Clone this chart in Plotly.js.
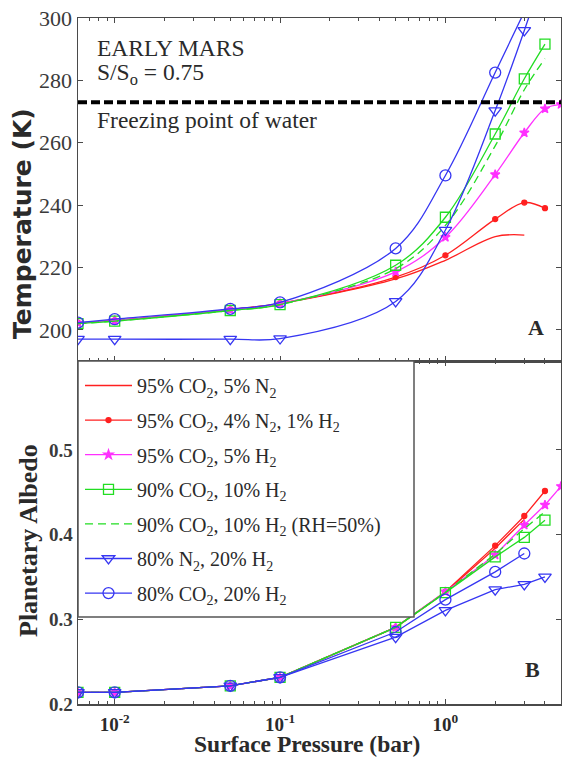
<!DOCTYPE html>
<html>
<head>
<meta charset="utf-8">
<script src="https://cdn.plot.ly/plotly-3.0.1.min.js"></script>
<style>
  html, body { margin: 0; padding: 0; background: #fff; }
  #chart { width: 562px; height: 758px; }
</style>
</head>
<body>
<div id="chart"></div>
<script>
// Surface pressure grid (bar) shared by all model runs
const pressure = [0.006, 0.01, 0.05, 0.1, 0.5, 1, 2, 3, 4, 5];

// Series labels (legend)
const seriesNames = [
  '95% CO<sub>2</sub>, 5% N<sub>2</sub>',
  '95% CO<sub>2</sub>, 4% N<sub>2</sub>, 1% H<sub>2</sub>',
  '95% CO<sub>2</sub>, 5% H<sub>2</sub>',
  '90% CO<sub>2</sub>, 10% H<sub>2</sub>',
  '90% CO<sub>2</sub>, 10% H<sub>2</sub> (RH=50%)',
  '80% N<sub>2</sub>, 20% H<sub>2</sub>',
  '80% CO<sub>2</sub>, 20% H<sub>2</sub>'
];

// Mean surface temperature (K), panel A
const tempCO2N2     = [202.2, 203.0, 206.5, 208.4, 216.3, 222.3, 229.9, 230.4];
const tempCO2N2H2   = [202.2, 203.0, 206.5, 208.5, 216.9, 223.9, 235.5, 240.8, 239.0];
const tempCO2H2_5   = [202.2, 203.0, 206.5, 208.4, 218.6, 229.7, 249.8, 263.2, 270.9, 272.3];
const tempCO2H2_10  = [202.0, 202.8, 206.2, 208.1, 220.7, 236.1, 262.8, 280.5, 291.6];
const tempCO2H2_RH  = [202.0, 202.8, 206.2, 208.1, 219.6, 233.5, 259.0, 277.0, 287.0];
const tempN2H2      = [197.0, 197.0, 197.0, 197.2, 209.1, 232.0, 270.3, 296.0, 316.0];
const tempCO2H2_20  = [202.3, 203.4, 206.7, 208.8, 226.1, 249.5, 282.5, 302.0];

// Planetary albedo, panel B
const albCO2N2      = [0.2137, 0.2137, 0.2215, 0.2315, 0.2905, 0.332, 0.384, 0.418];
const albCO2N2H2    = [0.2137, 0.2137, 0.2215, 0.2315, 0.2905, 0.3325, 0.387, 0.422, 0.4515];
const albCO2H2_5    = [0.2137, 0.2137, 0.2215, 0.2315, 0.2905, 0.3325, 0.376, 0.4113, 0.435, 0.457];
const albCO2H2_10   = [0.2137, 0.2137, 0.2215, 0.2315, 0.2905, 0.3315, 0.3737, 0.3967, 0.417];
const albCO2H2_RH   = [0.2137, 0.2137, 0.2215, 0.2315, 0.2905, 0.332, 0.377, 0.407, 0.427];
const albN2H2       = [0.2137, 0.2137, 0.2215, 0.2315, 0.279, 0.3106, 0.335, 0.3413, 0.350];
const albCO2H2_20   = [0.2137, 0.2137, 0.2215, 0.2315, 0.285, 0.3232, 0.356, 0.3777];

// Freezing point of water (K)
const freezingPoint = 273;

// Axis ticks
const xTickVals = [0.01, 0.1, 1];
const xTickText = ['10<sup>-2</sup>', '10<sup>-1</sup>', '10<sup>0</sup>'];
const xMinorVals = [0.006, 0.007, 0.008, 0.009, 0.02, 0.03, 0.04, 0.05, 0.06, 0.07, 0.08, 0.09,
                    0.2, 0.3, 0.4, 0.5, 0.6, 0.7, 0.8, 0.9, 2, 3, 4, 5];
const tempTicks = [200, 220, 240, 260, 280, 300];
const albTicks = [0.2, 0.3, 0.4, 0.5];

const P_MIN = 0.006, P_MAX = 5;

const RED = '#ff2020', MAGENTA = '#ff30ff', GREEN = '#22dd22', BLUE = '#3636f2';

const styles = [
  { color: RED,     dash: 'solid', marker: null },
  { color: RED,     dash: 'solid', marker: { symbol: 'circle', size: 5 } },
  { color: MAGENTA, dash: 'solid', marker: { symbol: 'star', size: 7 } },
  { color: GREEN,   dash: 'solid', marker: { symbol: 'square-open', size: 10 } },
  { color: GREEN,   dash: '8px,5px', marker: null },
  { color: BLUE,    dash: 'solid', marker: { symbol: 'triangle-down-open', size: 11 } },
  { color: BLUE,    dash: 'solid', marker: { symbol: 'circle-open', size: 11 } }
];

const temps = [tempCO2N2, tempCO2N2H2, tempCO2H2_5, tempCO2H2_10, tempCO2H2_RH, tempN2H2, tempCO2H2_20];
const albs  = [albCO2N2, albCO2N2H2, albCO2H2_5, albCO2H2_10, albCO2H2_RH, albN2H2, albCO2H2_20];

function makeTrace(i, yvals, xa, ya, shape, legend) {
  const s = styles[i];
  const t = {
    type: 'scatter',
    x: pressure.slice(0, yvals.length),
    y: yvals,
    xaxis: xa, yaxis: ya,
    name: seriesNames[i],
    legendgroup: 'g' + i,
    showlegend: legend,
    mode: s.marker ? 'lines+markers' : 'lines',
    line: { color: s.color, width: 1.3, dash: s.dash, shape: shape, smoothing: 1 },
    hoverinfo: 'skip'
  };
  if (s.marker) {
    t.marker = Object.assign({ color: s.color, line: { color: s.color, width: 1.3 } }, s.marker);
  }
  return t;
}

const traces = [];
// panel A: smooth curves
for (let i = 0; i < temps.length; i++) traces.push(makeTrace(i, temps[i], 'x', 'y', 'spline', false));
// freezing line
traces.push({
  type: 'scatter', x: [P_MIN, P_MAX], y: [freezingPoint, freezingPoint],
  xaxis: 'x', yaxis: 'y', mode: 'lines', showlegend: false, hoverinfo: 'skip',
  line: { color: '#000', width: 4, dash: '9px,4px' }
});
// panel B: straight segments
for (let i = 0; i < albs.length; i++) traces.push(makeTrace(i, albs[i], 'x2', 'y2', 'linear', true));

// pixel -> paper helpers for text placement
const L = 78, T = 18, W = 483, H = 686;
const px = x => (x - L) / W;
const py = y => (T + H - y) / H;

const AX = '#4a4a4a';
const serif = 'Liberation Serif, Times New Roman, serif';
const txt = '#2a2a2a';

const xCommon = {
  type: 'log',
  range: [Math.log10(P_MIN), Math.log10(P_MAX)],
  showline: true, linecolor: AX, linewidth: 1.5, mirror: 'allticks',
  ticks: 'inside', ticklen: 5, tickwidth: 1, tickcolor: AX,
  tickmode: 'array', tickvals: xTickVals, ticktext: xTickText,
  minor: { tickmode: 'array', tickvals: xMinorVals, ticks: 'inside', ticklen: 3, tickcolor: AX, tickwidth: 1, showgrid: false },
  showgrid: false, zeroline: false, fixedrange: true
};

const layout = {
  width: 562, height: 758,
  margin: { l: L, r: 562 - L - W, t: T, b: 758 - T - H, pad: 0 },
  paper_bgcolor: '#fff', plot_bgcolor: '#fff',
  showlegend: true,
  xaxis: Object.assign({}, xCommon, { anchor: 'y', domain: [0, 1], showticklabels: false }),
  xaxis2: Object.assign({}, xCommon, {
    anchor: 'y2', domain: [0, 1], showticklabels: true, ticklabelstandoff: 3,
    tickfont: { family: serif, size: 19, color: txt, weight: 'bold' }
  }),
  yaxis: {
    domain: [0.5, 1], anchor: 'x', range: [190, 300],
    tickmode: 'array', tickvals: tempTicks,
    showline: true, linecolor: AX, linewidth: 1.5, mirror: 'allticks',
    ticks: 'inside', ticklen: 5, tickcolor: AX,
    tickfont: { family: serif, size: 22, color: '#3a3a3a' },
    showgrid: false, zeroline: false, fixedrange: true
  },
  yaxis2: {
    domain: [0, 0.5], anchor: 'x2', range: [0.2, 0.605],
    tickmode: 'array', tickvals: albTicks, ticktext: ['0.2', '0.3', '0.4', '0.5'],
    showline: true, linecolor: AX, linewidth: 1.5, mirror: 'allticks',
    ticks: 'inside', ticklen: 5, tickcolor: AX,
    tickfont: { family: serif, size: 19, color: '#3a3a3a', weight: 'bold' },
    showgrid: false, zeroline: false, fixedrange: true
  },
  legend: {
    x: px(80), y: py(366), xanchor: 'left', yanchor: 'top',
    bgcolor: 'rgba(0,0,0,0)', borderwidth: 0,
    font: { family: serif, size: 20, color: txt },
    itemwidth: 47, tracegroupgap: 5.6, traceorder: 'grouped',
    itemclick: false, itemdoubleclick: false
  },
  shapes: [{
    type: 'rect', xref: 'paper', yref: 'paper', layer: 'above',
    x0: 0, x1: px(414), y0: py(617), y1: py(361),
    line: { color: '#555', width: 1.5 }, fillcolor: '#fff'
  }],
  annotations: [
    { text: 'EARLY MARS', x: px(95), y: py(48), xanchor: 'left', yanchor: 'middle' },
    { text: 'S/S<sub>o</sub> = 0.75', x: px(95), y: py(74), xanchor: 'left', yanchor: 'middle' },
    { text: 'Freezing point of water', x: px(95), y: py(120), xanchor: 'left', yanchor: 'middle' },
    { text: '<b>A</b>', x: px(536), y: py(327), xanchor: 'center', yanchor: 'middle', size: 22 },
    { text: '<b>B</b>', x: px(532), y: py(669), xanchor: 'center', yanchor: 'middle', size: 22 },
    { text: 'Temperature (K)', x: px(22), y: py(224), xanchor: 'center', yanchor: 'middle', textangle: -90,
      font: { family: 'DejaVu Sans, Arial, sans-serif', size: 25, color: txt, weight: 'bold' } },
    { text: 'Planetary Albedo', x: px(28), y: py(541), xanchor: 'center', yanchor: 'middle', textangle: -90,
      font: { family: serif, size: 26, color: txt, weight: 'bold' } },
    { text: 'Surface Pressure (bar)', x: px(307), y: py(744), xanchor: 'center', yanchor: 'middle',
      font: { family: serif, size: 23.5, color: txt, weight: 'bold' } }
  ].map(a => Object.assign({
    xref: 'paper', yref: 'paper', showarrow: false,
    font: { family: serif, size: a.size || 23.5, color: txt }
  }, a))
};

Plotly.newPlot('chart', traces, layout, { displayModeBar: false, staticPlot: true });
</script>
</body>
</html>
